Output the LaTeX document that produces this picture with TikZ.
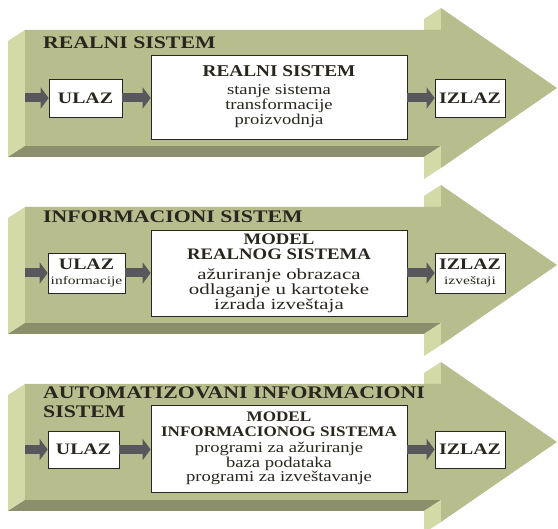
\documentclass[tikz,border=0pt]{standalone}
\usepackage{fontspec}
\setmainfont{Liberation Serif}
\newfontfamily\headfont{Liberation Serif}[FakeStretch=1.23]
\newfontfamily\titlefont{Liberation Serif}[FakeStretch=1.17]
\newfontfamily\bodyfont{Liberation Serif}[FakeStretch=1.24]
\newfontfamily\widebodyfont{Liberation Serif}[FakeStretch=1.35]
\newfontfamily\boxfont{Liberation Serif}[FakeStretch=1.24]
\newfontfamily\smallfont{Liberation Serif}[FakeStretch=1.35]
\usetikzlibrary{arrows.meta}
\definecolor{faceolive}{RGB}{184,189,142}
\definecolor{sideolive}{RGB}{212,217,168}
\definecolor{baseolive}{RGB}{139,143,108}
\definecolor{arrowgray}{RGB}{88,88,92}
\definecolor{inkdark}{RGB}{40,38,30}
\begin{document}
\begin{tikzpicture}[x=1pt,y=-1pt,
  box/.style={draw=black!85,line width=0.7pt,fill=white,inner sep=0pt,align=center,text=inkdark},
  link/.style={draw=arrowgray,line width=9pt,-{Triangle[length=8pt,width=21pt]}},
  heading/.style={anchor=west,inner sep=0pt,text=inkdark,align=left,
    font=\headfont\bfseries\fontsize{17.7}{19}\selectfont}]
\useasboundingbox (0,0) rectangle (558,529);
% the three shaded shafts
\foreach \dy in {0,177,354}{
\begin{scope}[shift={(0,\dy)}]
\fill[sideolive] (25,30) -- (8,41) -- (8,157) -- (25,146) -- cycle;
\fill[baseolive] (25,146) -- (8,157) -- (424,157) -- (441,146) -- cycle;
\fill[sideolive] (441,146) -- (424,157) -- (424,179) -- (441,168) -- cycle;
\fill[sideolive] (424,30) -- (424,19) -- (441,8) -- (441,30) -- cycle;
\fill[faceolive] (25,30) -- (441,30) -- (441,8) -- (557,88) -- (441,168) -- (441,146) -- (25,146) -- cycle;
\end{scope}}
% realni sistem
\node[heading] (name1) at (43,43) {REALNI SISTEM};
\node[box,minimum width=73pt,minimum height=38pt,font=\boxfont\bfseries\fontsize{16}{16}\selectfont] (in1) at (85.5,98) {ULAZ};
\node[box,minimum width=256pt,minimum height=84pt,font=\bodyfont\fontsize{15}{15}\selectfont] (sys1) at (279,97)
  {{\titlefont\bfseries\fontsize{16.5}{15}\selectfont REALNI SISTEM}\\[3pt]
   stanje sistema\\transformacije\\proizvodnja};
\node[box,minimum width=70pt,minimum height=38pt,font=\boxfont\bfseries\fontsize{16}{16}\selectfont] (out1) at (470,98) {IZLAZ};
\coordinate (src1) at (25,98);
% informacioni sistem
\node[heading] (name2) at (43,217) {INFORMACIONI SISTEM};
\node[box,minimum width=77pt,minimum height=40pt,font=\boxfont\bfseries\fontsize{16}{13.5}\selectfont] (in2) at (86.5,273)
  {ULAZ\\[1pt]{\smallfont\mdseries\fontsize{11.5}{12}\selectfont informacije}};
\node[box,minimum width=256pt,minimum height=86pt,font=\widebodyfont\fontsize{15.5}{13.5}\selectfont] (sys2) at (279,273)
  {{\titlefont\bfseries\fontsize{16}{13.5}\selectfont MODEL}\\[2pt]
   {\titlefont\bfseries\fontsize{16}{13.5}\selectfont REALNOG SISTEMA}\\[6pt]
   ažuriranje obrazaca\\odlaganje u kartoteke\\izrada izveštaja};
\node[box,minimum width=70pt,minimum height=40pt,font=\boxfont\bfseries\fontsize{16}{13.5}\selectfont] (out2) at (470,273)
  {IZLAZ\\[1pt]{\smallfont\mdseries\fontsize{11.5}{12}\selectfont izveštaji}};
\coordinate (src2) at (25,273);
% automatizovani informacioni sistem
\node[heading] (name3) at (43,402) {AUTOMATIZOVANI INFORMACIONI\\SISTEM};
\node[box,minimum width=71pt,minimum height=37pt,font=\boxfont\bfseries\fontsize{16}{16}\selectfont] (in3) at (83.5,449.5) {ULAZ};
\node[box,minimum width=256pt,minimum height=87pt,font=\bodyfont\fontsize{15}{13}\selectfont] (sys3) at (279,448.5)
  {{\titlefont\bfseries\fontsize{14.6}{13}\selectfont MODEL}\\[2pt]
   {\titlefont\bfseries\fontsize{14.6}{13}\selectfont INFORMACIONOG SISTEMA}\\[3pt]
   programi za ažuriranje\\baza podataka\\programi za izveštavanje};
\node[box,minimum width=70pt,minimum height=37pt,font=\boxfont\bfseries\fontsize{16}{16}\selectfont] (out3) at (470,449.5) {IZLAZ};
\coordinate (src3) at (25,449.5);
% connectors
\foreach \i in {1,2,3}{
\draw[link] (src\i) -- (in\i.west);
\draw[link] (in\i.east) -- (in\i.east -| sys\i.west);
\draw[link] (sys\i.east |- out\i.west) -- (out\i.west);
}
\end{tikzpicture}
\end{document}
